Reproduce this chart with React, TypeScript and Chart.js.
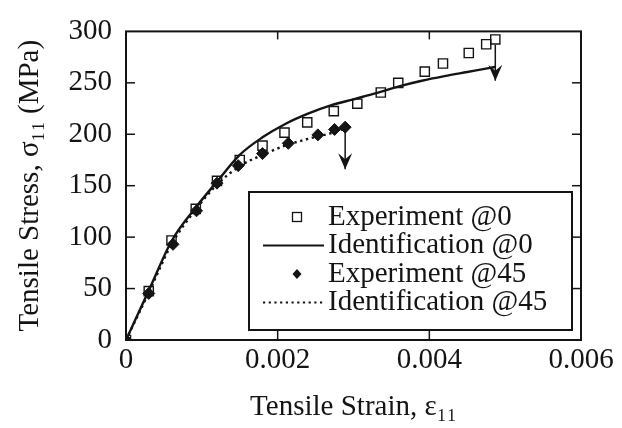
import React, { useEffect, useRef } from 'react';
import { Chart, registerables } from 'chart.js';

Chart.register(...registerables);

// ---- data ----
const exp0Strain = [0, 0.0003, 0.0006, 0.00092, 0.0012, 0.0015, 0.0018, 0.00209, 0.00239, 0.00274, 0.00305, 0.00336, 0.00359, 0.00394, 0.00418, 0.00452, 0.00475, 0.00487];
const exp0Stress = [0, 47.5, 96.8, 127.5, 154.7, 175, 189, 201.6, 211.6, 222.5, 229.7, 240.6, 250, 260.9, 268.8, 279, 287.5, 292.2];

const id0Strain = [0, 0.0003, 0.0006, 0.0009, 0.0012, 0.0015, 0.0018, 0.0021, 0.0024, 0.0027, 0.003, 0.0033, 0.0036, 0.0039, 0.0042, 0.0045, 0.0048, 0.00487];
const id0Stress = [0, 48, 96, 127, 154, 180, 197, 210, 220, 228, 234, 240, 246.5, 252, 256.5, 260.5, 264.5, 265.5];

const exp45Strain = [0, 0.0003, 0.00062, 0.00093, 0.0012, 0.00148, 0.0018, 0.00214, 0.00253, 0.00275, 0.00289];
const exp45Stress = [0, 45.3, 93, 125.6, 152.5, 169.5, 181.2, 191.2, 199.4, 204.7, 206.9];

const id45Strain = [0, 0.0003, 0.0006, 0.0009, 0.0012, 0.0015, 0.0018, 0.0021, 0.0024, 0.0027, 0.0029];
const id45Stress = [0, 46, 93, 125, 151, 169, 180, 189, 195.5, 201, 206];

const arrow0Strain = [0.00487, 0.00487];
const arrow0Stress = [287, 252];
const arrow45Strain = [0.00289, 0.00289];
const arrow45Stress = [202, 166];

const seriesLabels = ['Experiment @0', 'Identification @0', 'Experiment @45', 'Identification @45'];
const xTicks = [0, 0.002, 0.004, 0.006];
const yTicks = [0, 50, 100, 150, 200, 250, 300];
const xTitle = 'Tensile Strain, ε₁₁';
const yTitle = 'Tensile Stress, σ₁₁ (MPa)';

const INK = '#141414';
const FONT = '"Liberation Serif", "Times New Roman", serif';

const pts = (xs: number[], ys: number[]) => xs.map((x, i) => ({ x, y: ys[i] }));

const framePlugin = {
  id: 'frameTicks',
  beforeDatasetsDraw(chart: any) {
    const { ctx, chartArea: a, scales } = chart;
    ctx.save();
    ctx.strokeStyle = INK;
    ctx.lineWidth = 2;
    ctx.strokeRect(a.left, a.top, a.right - a.left, a.bottom - a.top);
    ctx.lineWidth = 1.5;
    const seg = (x1: number, y1: number, x2: number, y2: number) => {
      ctx.beginPath();
      ctx.moveTo(x1, y1);
      ctx.lineTo(x2, y2);
      ctx.stroke();
    };
    scales.x.ticks.forEach((t: any) => {
      const px = scales.x.getPixelForValue(t.value);
      if (px <= a.left + 1 || px >= a.right - 1) return;
      seg(px, a.bottom, px, a.bottom - 9);
      seg(px, a.top, px, a.top + 8);
    });
    scales.y.ticks.forEach((t: any) => {
      const py = scales.y.getPixelForValue(t.value);
      if (py <= a.top + 1 || py >= a.bottom - 1) return;
      seg(a.left, py, a.left + 9, py);
      seg(a.right, py, a.right - 9, py);
    });
    ctx.restore();
  },
};

const arrowPlugin = {
  id: 'arrowHeads',
  afterDatasetsDraw(chart: any) {
    const { ctx } = chart;
    chart.data.datasets.forEach((ds: any, i: number) => {
      if (!ds.arrow) return;
      const meta = chart.getDatasetMeta(i);
      const n = meta.data.length;
      const tip = meta.data[n - 1];
      const prev = meta.data[n - 2];
      const ang = Math.atan2(tip.y - prev.y, tip.x - prev.x);
      ctx.save();
      ctx.translate(tip.x, tip.y);
      ctx.rotate(ang - Math.PI / 2);
      ctx.fillStyle = INK;
      ctx.beginPath();
      ctx.moveTo(0, 0);
      ctx.lineTo(-7, -16);
      ctx.lineTo(0, -10);
      ctx.lineTo(7, -16);
      ctx.closePath();
      ctx.fill();
      ctx.restore();
    });
  },
};

const legendPlugin = {
  id: 'boxLegend',
  afterDraw(chart: any) {
    const { ctx, chartArea: a } = chart;
    const w = 323;
    const h = 138;
    const right = a.right - 9;
    const bottom = a.bottom - 10;
    const left = right - w;
    const top = bottom - h;
    ctx.save();
    ctx.fillStyle = '#fff';
    ctx.fillRect(left, top, w, h);
    ctx.strokeStyle = INK;
    ctx.lineWidth = 2;
    ctx.strokeRect(left, top, w, h);
    const items = chart.data.datasets.filter((d: any) => d.legendSymbol);
    items.forEach((d: any, i: number) => {
      const cy = top + 25 + i * 28.5;
      const cx = left + 48;
      ctx.strokeStyle = INK;
      ctx.fillStyle = INK;
      ctx.setLineDash([]);
      if (d.legendSymbol === 'square') {
        ctx.lineWidth = 1.3;
        ctx.strokeRect(cx - 4.5, cy - 4.5, 9, 9);
      } else if (d.legendSymbol === 'diamond') {
        ctx.beginPath();
        ctx.moveTo(cx, cy - 5);
        ctx.lineTo(cx + 4.5, cy);
        ctx.lineTo(cx, cy + 5);
        ctx.lineTo(cx - 4.5, cy);
        ctx.closePath();
        ctx.fill();
      } else {
        ctx.lineWidth = 2.2;
        if (d.legendSymbol === 'dotted') ctx.setLineDash([2.2, 3.5]);
        ctx.beginPath();
        ctx.moveTo(left + 14, cy);
        ctx.lineTo(left + 75, cy);
        ctx.stroke();
      }
      ctx.setLineDash([]);
      ctx.font = '29px ' + FONT;
      ctx.textBaseline = 'middle';
      ctx.textAlign = 'left';
      ctx.fillText(d.label, left + 79, cy);
    });
    ctx.restore();
  },
};

export default function App() {
  const ref = useRef<HTMLCanvasElement>(null);

  useEffect(() => {
    if (!ref.current) return;
    const tickFont = { family: FONT, size: 29 };
    const chart = new Chart(ref.current, {
      type: 'scatter',
      data: {
        datasets: [
          {
            label: seriesLabels[0],
            data: pts(exp0Strain, exp0Stress),
            showLine: false,
            pointStyle: 'rect',
            pointRadius: 6.5,
            borderWidth: 1.4,
            borderColor: INK,
            backgroundColor: 'rgba(0,0,0,0)',
            legendSymbol: 'square',
            order: 1,
          } as any,
          {
            label: seriesLabels[1],
            data: pts(id0Strain, id0Stress),
            showLine: true,
            pointRadius: 0,
            borderWidth: 2.4,
            borderColor: INK,
            backgroundColor: INK,
            cubicInterpolationMode: 'monotone',
            legendSymbol: 'line',
            order: 3,
          } as any,
          {
            label: seriesLabels[2],
            data: pts(exp45Strain, exp45Stress),
            showLine: false,
            pointStyle: 'rectRot',
            pointRadius: 6,
            borderWidth: 1,
            borderColor: INK,
            backgroundColor: INK,
            legendSymbol: 'diamond',
            order: 2,
          } as any,
          {
            label: seriesLabels[3],
            data: pts(id45Strain, id45Stress),
            showLine: true,
            pointRadius: 0,
            borderWidth: 2.4,
            borderDash: [2.4, 3.6],
            borderColor: INK,
            backgroundColor: INK,
            cubicInterpolationMode: 'monotone',
            legendSymbol: 'dotted',
            order: 4,
          } as any,
          {
            label: 'arrow @0',
            data: pts(arrow0Strain, arrow0Stress),
            showLine: true,
            pointRadius: 0,
            borderWidth: 1.5,
            borderColor: INK,
            arrow: true,
            order: 0,
          } as any,
          {
            label: 'arrow @45',
            data: pts(arrow45Strain, arrow45Stress),
            showLine: true,
            pointRadius: 0,
            borderWidth: 1.5,
            borderColor: INK,
            arrow: true,
            order: 0,
          } as any,
        ],
      },
      options: {
        animation: false,
        responsive: false,
        devicePixelRatio: 1,
        events: [],
        layout: { padding: { top: 20, right: 41, bottom: 0, left: 0 } },
        plugins: {
          legend: { display: false },
          tooltip: { enabled: false },
        },
        scales: {
          x: {
            type: 'linear',
            min: xTicks[0],
            max: xTicks[xTicks.length - 1],
            afterBuildTicks: (s: any) => {
              s.ticks = xTicks.map((v) => ({ value: v }));
            },
            afterFit: (s: any) => {
              s.height = 88;
            },
            ticks: {
              font: tickFont,
              color: INK,
              padding: 3,
              maxRotation: 0,
              autoSkip: false,
              callback: (v: any) => (Number(v) === 0 ? '0' : Number(v).toFixed(3)),
            },
            grid: { display: false, drawTicks: false },
            border: { display: false },
            title: {
              display: true,
              text: xTitle,
              color: INK,
              font: tickFont,
              padding: { top: 0, bottom: 3 },
            },
          },
          y: {
            type: 'linear',
            min: yTicks[0],
            max: yTicks[yTicks.length - 1],
            afterBuildTicks: (s: any) => {
              s.ticks = yTicks.map((v) => ({ value: v }));
            },
            afterFit: (s: any) => {
              s.width = 126;
            },
            ticks: {
              font: tickFont,
              color: INK,
              padding: 14,
              autoSkip: false,
              callback: (v: any) => String(v),
            },
            grid: { display: false, drawTicks: false },
            border: { display: false },
            title: {
              display: true,
              text: yTitle,
              color: INK,
              font: tickFont,
              padding: { top: 13, bottom: 0 },
            },
          },
        },
      },
      plugins: [framePlugin, arrowPlugin, legendPlugin],
    } as any);
    return () => chart.destroy();
  }, []);

  return (
    <div style={{ position: 'absolute', left: 0, top: 0, width: 622, height: 428, background: '#fff' }}>
      <canvas ref={ref} width={622} height={428} style={{ display: 'block', width: 622, height: 428 }} />
    </div>
  );
}
